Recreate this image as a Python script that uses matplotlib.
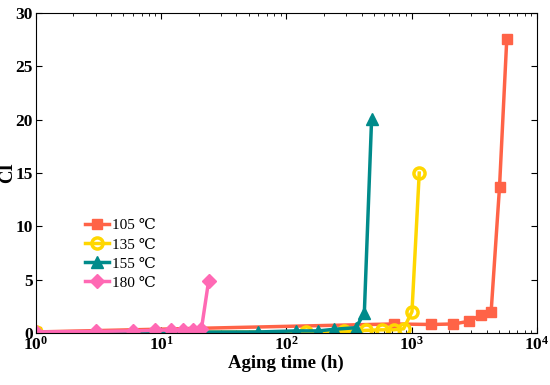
import matplotlib
matplotlib.use("Agg")
import matplotlib.pyplot as plt

plt.rcParams['font.family'] = ['Liberation Serif', 'DejaVu Serif']
plt.rcParams['font.weight'] = 'bold'

# data
t105 = [1, 720, 1440, 2160, 2880, 3600, 4320, 5040, 5760]
ci105 = [0.1, 0.85, 0.8, 0.85, 1.1, 1.7, 2.0, 13.7, 27.6]

t135 = [1, 144, 288, 432, 576, 720, 864, 1008, 1152]
ci135 = [0.05, 0.1, 0.15, 0.25, 0.3, 0.3, 0.4, 2.0, 15.0]

t155 = [1, 60, 120, 180, 240, 360, 420, 480]
ci155 = [0.05, 0.1, 0.2, 0.2, 0.35, 0.5, 1.9, 20.1]

t180 = [1, 3, 6, 9, 12, 15, 18, 21, 24]
ci180 = [0.1, 0.15, 0.2, 0.25, 0.3, 0.3, 0.3, 0.35, 4.9]

fig = plt.figure(figsize=(5.5, 3.85), dpi=100)
ax = fig.add_axes([0.065, 0.135, 0.911, 0.831])

ax.plot(t105, ci105, color='#FF6347', marker='s', ms=7, lw=2.5, label='105 ℃')
ax.plot(t135, ci135, color='#FFD700', marker='o', ms=8, lw=2.5, mfc='none', mew=2.5, label='135 ℃')
ax.plot(t155, ci155, color='#008B8B', marker='^', ms=8, lw=2.5, label='155 ℃')
ax.plot(t180, ci180, color='#FF69B4', marker='D', ms=7, lw=2.5, label='180 ℃')

ax.set_xscale('log')
ax.set_xlim(1, 1e4)
ax.set_ylim(0, 30)
ax.set_yticks([0, 5, 10, 15, 20, 25, 30])
ax.tick_params(which='both', direction='in', top=True, right=True, labelsize=12.5, pad=2)
ax.tick_params(which='major', length=4)
ax.tick_params(which='minor', length=2.5)

ax.set_xlabel('Aging time (h)', fontsize=13.5, fontweight='bold', labelpad=1)
ax.set_ylabel('CI', fontsize=13.5, fontweight='bold')
ax.yaxis.set_label_coords(-0.04, 0.5)

leg = ax.legend(loc='upper left', bbox_to_anchor=(0.07, 0.4), frameon=False,
                handlelength=1.6, handletextpad=0.2, labelspacing=0.35,
                prop={'size': 11, 'weight': 'normal'})

fig.savefig('out.png', dpi=100)
